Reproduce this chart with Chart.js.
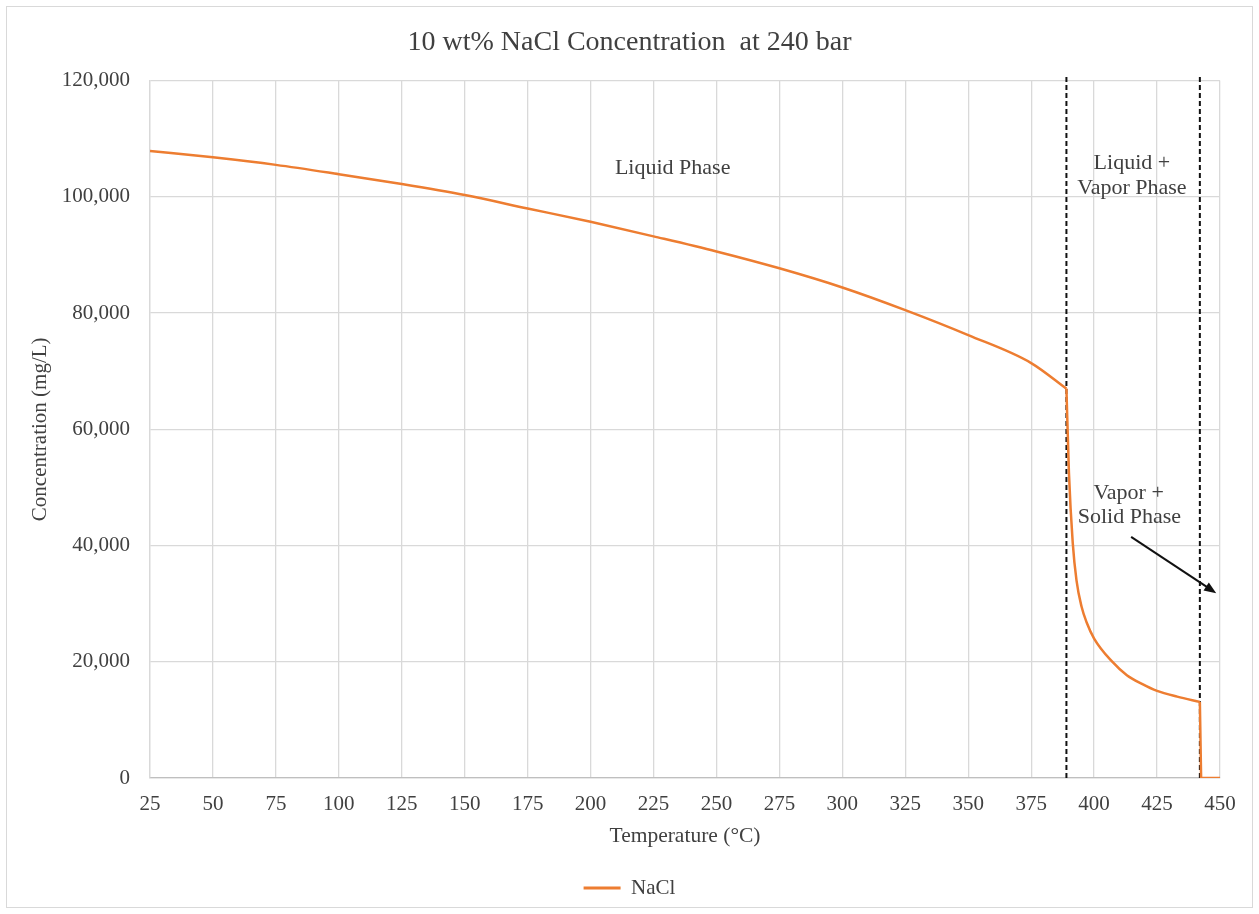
<!DOCTYPE html>
<html>
<head>
<meta charset="utf-8">
<title>10 wt% NaCl Concentration at 240 bar</title>
<script src="https://cdn.jsdelivr.net/npm/chart.js@4.4.1/dist/chart.umd.min.js"></script>
<style>
  html, body { margin: 0; padding: 0; background: #fff; }
  #chart { display: block; }
</style>
</head>
<body>
<canvas id="chart" width="1259" height="914"></canvas>
<script>
// NaCl concentration (mg/L) vs temperature (°C) at 240 bar, split by phase region
const liquidT = [25, 50, 75, 100, 125, 150, 175, 200, 225, 250, 275, 300, 325, 350, 375, 389]
const liquidC = [107900, 106800, 105500, 103900, 102200, 100300, 98000, 95700, 93200, 90600, 87700, 84400, 80500, 76200, 71400, 67000]

const twoPhaseT = [389, 390, 391.5, 393, 395, 397, 400, 407, 413, 419, 425, 433, 442]
const twoPhaseC = [67000, 52500, 40500, 34000, 29500, 26800, 24000, 20100, 17700, 16200, 15000, 14000, 13100]

const solidT = [442, 442.5, 450]
const solidC = [13100, 0, 0]

// phase boundaries (°C)
const phaseBounds = [389, 442]
const boundTop = 121000

// region labels: [x, y, text]
const phaseLabels = [
  [232.6, 105000, 'Liquid Phase'],
  [415, 105800, 'Liquid +'],
  [415, 101500, 'Vapor Phase'],
  [413.7, 49000, 'Vapor +'],
  [414, 44800, 'Solid Phase']
]
// arrow pointing into the vapor + solid region: [x0, y0, x1, y1]
const arrow = [414.7, 41500, 448.5, 31800]

const serif = "'Liberation Serif', 'Times New Roman', serif"
const textColor = '#404040'
const gridColor = '#d9d9d9'
const orange = '#ED7D31'

const points = (xs, ys) => xs.map((t, i) => ({ x: t, y: ys[i] }))

const frame = {
  id: 'frame',
  beforeDraw (chart) {
    const ctx = chart.ctx
    ctx.save()
    ctx.fillStyle = '#fff'
    ctx.fillRect(0, 0, chart.width, chart.height)
    ctx.strokeStyle = gridColor
    ctx.lineWidth = 1
    ctx.strokeRect(6.5, 6.5, chart.width - 13, chart.height - 13)
    ctx.restore()
  }
}

const notes = {
  id: 'notes',
  afterDatasetsDraw (chart) {
    const ctx = chart.ctx
    const x = chart.scales.x
    const y = chart.scales.y
    ctx.save()
    ctx.font = '22px ' + serif
    ctx.fillStyle = textColor
    ctx.textAlign = 'center'
    ctx.textBaseline = 'middle'
    phaseLabels.forEach(([tx, ty, text]) => {
      ctx.fillText(text, x.getPixelForValue(tx), y.getPixelForValue(ty))
    })

    const x0 = x.getPixelForValue(arrow[0])
    const y0 = y.getPixelForValue(arrow[1])
    const x1 = x.getPixelForValue(arrow[2])
    const y1 = y.getPixelForValue(arrow[3])
    const ang = Math.atan2(y1 - y0, x1 - x0)
    const head = 13
    ctx.strokeStyle = '#111'
    ctx.fillStyle = '#111'
    ctx.lineWidth = 2
    ctx.beginPath()
    ctx.moveTo(x0, y0)
    ctx.lineTo(x1 - Math.cos(ang) * head * 0.8, y1 - Math.sin(ang) * head * 0.8)
    ctx.stroke()
    ctx.beginPath()
    ctx.moveTo(x1, y1)
    ctx.lineTo(x1 - head * Math.cos(ang - 0.38), y1 - head * Math.sin(ang - 0.38))
    ctx.lineTo(x1 - head * Math.cos(ang + 0.38), y1 - head * Math.sin(ang + 0.38))
    ctx.closePath()
    ctx.fill()
    ctx.restore()
  }
}

const curve = (label, data, smooth) => ({
  label,
  data,
  borderColor: orange,
  backgroundColor: orange,
  borderWidth: 2.5,
  pointRadius: 0,
  cubicInterpolationMode: smooth ? 'monotone' : 'default',
  tension: 0,
  order: 0
})

const boundSets = phaseBounds.map(t => ({
  label: 'bound ' + t,
  data: [{ x: t, y: 0 }, { x: t, y: boundTop }],
  borderColor: '#111',
  borderWidth: 2,
  borderDash: [5, 3],
  pointRadius: 0,
  clip: false,
  order: 1
}))

const chart = new Chart(document.getElementById('chart'), {
  type: 'line',
  data: {
    datasets: [
      curve('NaCl', points(liquidT, liquidC), true),
      curve('NaCl liquid + vapor', points(twoPhaseT, twoPhaseC), true),
      curve('NaCl vapor + solid', points(solidT, solidC), false),
      ...boundSets
    ]
  },
  options: {
    responsive: false,
    animation: false,
    devicePixelRatio: 1,
    layout: { padding: { left: 7, right: 7, top: 0, bottom: 5.5 } },
    plugins: {
      tooltip: { enabled: false },
      title: {
        display: true,
        text: '10 wt% NaCl Concentration  at 240 bar',
        color: textColor,
        font: { family: serif, size: 28, weight: 'normal' },
        padding: { top: 26, bottom: 21 }
      },
      legend: {
        position: 'bottom',
        labels: {
          color: textColor,
          font: { family: serif, size: 21 },
          boxWidth: 37,
          boxHeight: 3,
          filter: item => item.datasetIndex === 0,
          generateLabels: c => Chart.defaults.plugins.legend.labels.generateLabels(c)
            .map(l => Object.assign(l, { lineWidth: 0, fillStyle: orange }))
        }
      }
    },
    scales: {
      x: {
        type: 'linear',
        min: 25,
        max: 450,
        afterFit: s => { s.height = 89.5 },
        ticks: {
          stepSize: 25,
          color: textColor,
          padding: 14,
          maxRotation: 0,
          font: { family: serif, size: 21 }
        },
        grid: { color: gridColor, lineWidth: 1.3, drawTicks: false },
        border: { color: '#bfbfbf', width: 1.3 },
        title: {
          display: true,
          text: 'Temperature (°C)',
          color: textColor,
          font: { family: serif, size: 21.5 },
          padding: { top: 0, bottom: 18 }
        }
      },
      y: {
        min: 0,
        max: 120000,
        afterFit: s => { s.width = 143 },
        ticks: {
          stepSize: 20000,
          color: textColor,
          padding: 20,
          font: { family: serif, size: 21 },
          callback: v => v.toLocaleString('en-US')
        },
        grid: { color: gridColor, lineWidth: 1.3, drawTicks: false },
        border: { color: gridColor, width: 1.3 },
        title: {
          display: true,
          text: 'Concentration (mg/L)',
          color: textColor,
          font: { family: serif, size: 21 },
          padding: { top: 20.5, bottom: 0 }
        }
      },
      // empty right-hand margin axis, keeps the plot edge at 450 clear of the frame
      yRight: {
        position: 'right',
        display: true,
        afterFit: s => { s.width = 32 },
        ticks: { display: false },
        grid: { display: false, drawTicks: false },
        border: { display: false }
      }
    }
  },
  plugins: [frame, notes]
})
</script>
</body>
</html>
